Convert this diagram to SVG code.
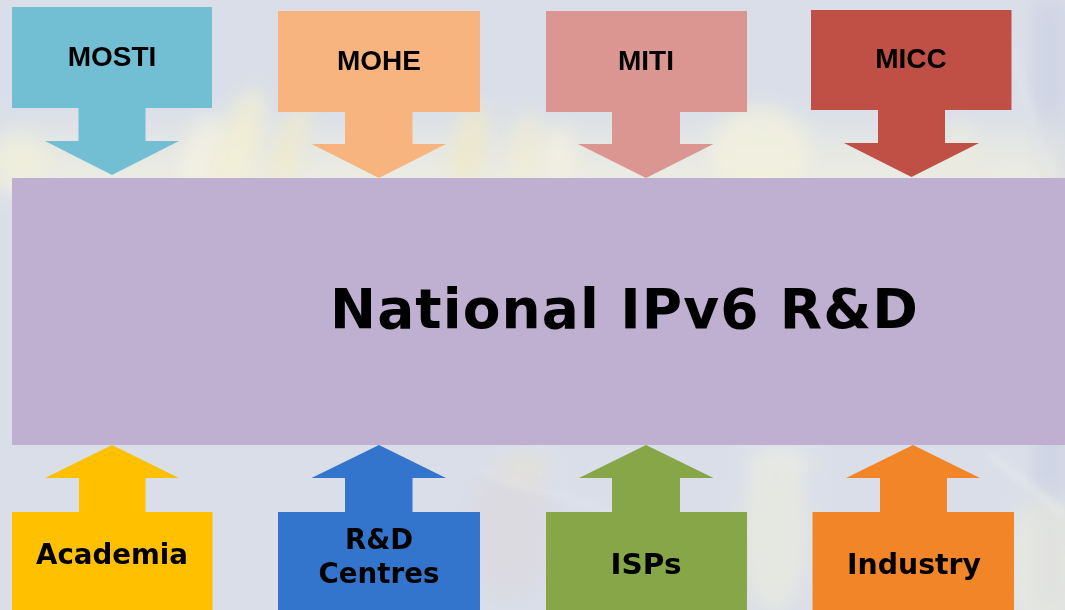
<svg xmlns="http://www.w3.org/2000/svg" width="1065" height="610" viewBox="0 0 1065 610">
  <defs>
    <filter id="soft" x="-30%" y="-30%" width="160%" height="160%">
      <feGaussianBlur stdDeviation="10"/>
    </filter>
    <filter id="softer" x="-30%" y="-30%" width="160%" height="160%">
      <feGaussianBlur stdDeviation="4"/>
    </filter>
    <linearGradient id="warmBand" x1="0" y1="0" x2="0" y2="1">
      <stop offset="0" stop-color="#F1F0E0" stop-opacity="0"/>
      <stop offset="0.55" stop-color="#F1F0E0" stop-opacity="0.6"/>
      <stop offset="1" stop-color="#F4F2E0" stop-opacity="0.8"/>
    </linearGradient>
    <style>
      .top-label { font-family: "Liberation Sans", Arial, sans-serif; font-weight: bold; font-size: 28px; fill: #000; text-anchor: middle; }
      .bottom-label { font-family: "DejaVu Sans", "Noto Sans", sans-serif; font-weight: bold; font-size: 29px; fill: #000; text-anchor: middle; }
      .title { font-family: "DejaVu Sans", "Noto Sans", sans-serif; font-weight: bold; font-size: 55px; fill: #000; }
      .mosti { fill: #72BFD3; }
      .mohe { fill: #F8B47E; }
      .miti { fill: #DB9692; }
      .micc { fill: #C05046; }
      .academia { fill: #FFC000; }
      .rnd { fill: #3375CC; }
      .isps { fill: #86A648; }
      .industry { fill: #F28528; }
    </style>
  </defs>

  <!-- backdrop: pale blue-grey with a soft, out-of-focus warm band -->
  <g id="backdrop">
    <rect width="1065" height="610" fill="#D9DEE9"/>
    <rect x="1035" y="0" width="30" height="610" fill="#CFD4E4" filter="url(#soft)"/>
    <rect x="0" y="105" width="1065" height="90" fill="url(#warmBand)" filter="url(#soft)"/>
    <g filter="url(#soft)" opacity="0.7">
      <ellipse cx="15" cy="160" rx="35" ry="25" fill="#F1F0DA"/>
      <ellipse cx="240" cy="140" rx="20" ry="55" fill="#F5F1D0" transform="rotate(18 240 140)"/>
      <ellipse cx="290" cy="145" rx="12" ry="50" fill="#F2ECC6" transform="rotate(18 290 145)"/>
      <ellipse cx="200" cy="150" rx="12" ry="40" fill="#F8F5E2" transform="rotate(18 200 150)"/>
      <ellipse cx="470" cy="145" rx="16" ry="45" fill="#F0E9C4" transform="rotate(10 470 145)"/>
      <ellipse cx="525" cy="150" rx="12" ry="40" fill="#F3EED0" transform="rotate(8 525 150)"/>
      <ellipse cx="560" cy="155" rx="14" ry="30" fill="#F6F3E0"/>
      <ellipse cx="760" cy="150" rx="50" ry="45" fill="#F4F2DE"/>
      <ellipse cx="960" cy="155" rx="20" ry="35" fill="#EAEADE"/>
    </g>
    <g filter="url(#soft)" opacity="0.55">
      <ellipse cx="510" cy="530" rx="45" ry="70" fill="#DED7DA"/>
      <ellipse cx="775" cy="530" rx="35" ry="85" fill="#F0EFDC"/>
      <ellipse cx="1045" cy="565" rx="40" ry="70" fill="#EFEEDC"/>
      <ellipse cx="525" cy="468" rx="25" ry="18" fill="#E8E3D0"/>
      <ellipse cx="780" cy="462" rx="35" ry="16" fill="#F3F2E2"/>
    </g>
    <g filter="url(#softer)" opacity="0.55">
      <line x1="480" y1="470" x2="620" y2="515" stroke="#F2F2F4" stroke-width="3"/>
      <line x1="990" y1="455" x2="1065" y2="515" stroke="#F4F4F2" stroke-width="5"/>
      <line x1="1005" y1="30" x2="1050" y2="175" stroke="#E6E9F1" stroke-width="5"/>
    </g>
  </g>

  <!-- block arrows: ministries feed down, partners feed up -->
  <g id="connectors">
    <polygon class="mosti" points="78.5,107 145.5,107 145.5,141 179,141 112,175 45,141 78.5,141"/>
    <polygon class="mohe" points="345,111 412.5,111 412.5,144 446,144 379,178 311.5,144 345,144"/>
    <polygon class="miti" points="612,111 680,111 680,144 713.5,144 646,178 578,144 612,144"/>
    <polygon class="micc" points="878,109 945,109 945,143 979,143 911.5,177 844,143 878,143"/>

    <polygon class="academia" points="112,445 179,478 145.5,478 145.5,513 79,513 79,478 45,478"/>
    <polygon class="rnd" points="379,445 446,478 412.5,478 412.5,513 345,513 345,478 311.5,478"/>
    <polygon class="isps" points="646,445 713.5,478 680,478 680,513 612,513 612,478 579,478"/>
    <polygon class="industry" points="913,445 980,478 947,478 947,513 880,513 880,478 846,478"/>
  </g>

  <g id="node-mosti">
    <rect class="mosti" x="12" y="7" width="200" height="101"/>
    <text class="top-label" x="112" y="66">MOSTI</text>
  </g>
  <g id="node-mohe">
    <rect class="mohe" x="278" y="11" width="202" height="101"/>
    <text class="top-label" x="379" y="70">MOHE</text>
  </g>
  <g id="node-miti">
    <rect class="miti" x="546" y="11" width="201" height="101"/>
    <text class="top-label" x="646" y="70">MITI</text>
  </g>
  <g id="node-micc">
    <rect class="micc" x="811" y="10" width="200.5" height="100"/>
    <text class="top-label" x="911" y="68">MICC</text>
  </g>

  <g id="node-national">
    <rect x="12" y="178" width="1053" height="267" fill="#BFAFD0"/>
    <text class="title" x="330" y="328" textLength="588" lengthAdjust="spacing">National IPv6 R&amp;D</text>
  </g>

  <g id="node-academia">
    <rect class="academia" x="12" y="512" width="200.5" height="98"/>
    <text class="bottom-label" x="112" y="564" textLength="152" lengthAdjust="spacingAndGlyphs">Academia</text>
  </g>
  <g id="node-rnd-centres">
    <rect class="rnd" x="278" y="512" width="202" height="98"/>
    <text class="bottom-label" x="379" y="549" textLength="68" lengthAdjust="spacingAndGlyphs">R&amp;D</text>
    <text class="bottom-label" x="379" y="583" textLength="121" lengthAdjust="spacingAndGlyphs">Centres</text>
  </g>
  <g id="node-isps">
    <rect class="isps" x="546" y="512" width="201" height="98"/>
    <text class="bottom-label" x="646" y="574" textLength="71" lengthAdjust="spacingAndGlyphs">ISPs</text>
  </g>
  <g id="node-industry">
    <rect class="industry" x="812.5" y="512" width="201.5" height="98"/>
    <text class="bottom-label" x="914" y="574" textLength="134" lengthAdjust="spacingAndGlyphs">Industry</text>
  </g>
</svg>
